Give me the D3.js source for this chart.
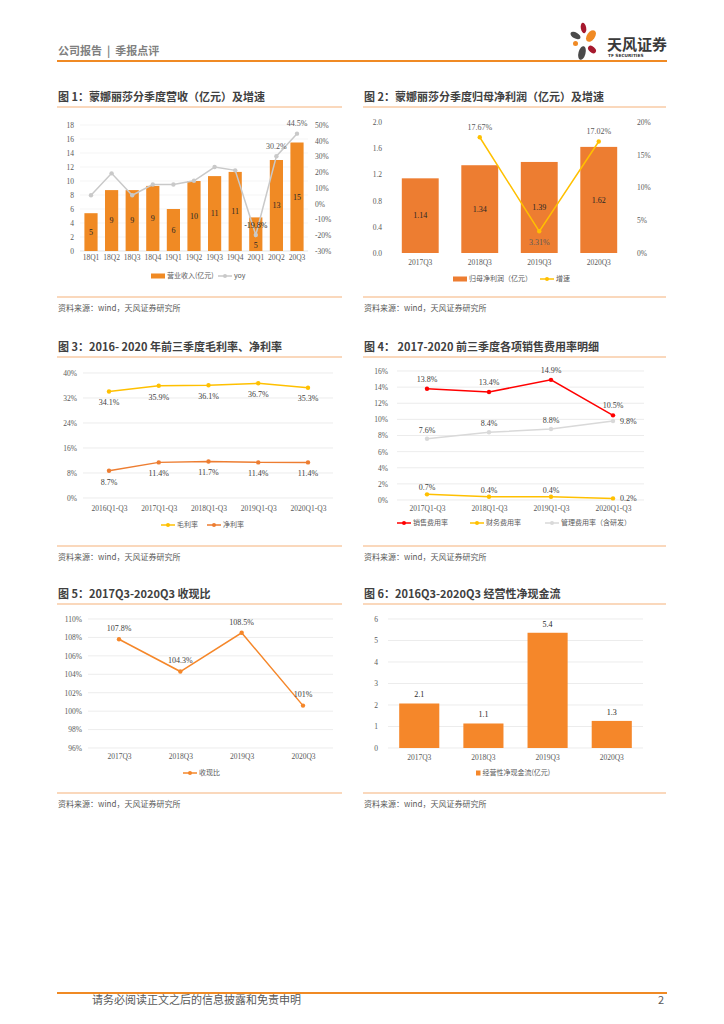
<!DOCTYPE html>
<html>
<head>
<meta charset="utf-8">
<script src="https://cdn.jsdelivr.net/npm/d3@7"></script>
<style>
  body { margin: 0; background: #fff; }
  svg { display: block; }
</style>
</head>
<body>
<div id="page"></div>
<script>
// 图1 分季度营收
const revQuarters = ["18Q1", "18Q2", "18Q3", "18Q4", "19Q1", "19Q2", "19Q3", "19Q4", "20Q1", "20Q2", "20Q3"];
const revValues = [5.4, 8.7, 8.7, 9.3, 6.0, 10.0, 10.7, 11.3, 4.8, 13.0, 15.5];
const revLabels = ["5", "9", "9", "9", "6", "10", "11", "11", "5", "13", "15"];
const revYoy = [5.4, 19.3, 5.4, 12.2, 12.2, 14.6, 23.3, 21.2, -19.8, 30.2, 44.5];
const revYoyLabels = ["", "", "", "", "", "", "", "", "-19.8%", "30.2%", "44.5%"];
const revLeftTicks = [0, 2, 4, 6, 8, 10, 12, 14, 16, 18];
const revRightTicks = [-30, -20, -10, 0, 10, 20, 30, 40, 50];

// 图2 归母净利润
const profitPeriods = ["2017Q3", "2018Q3", "2019Q3", "2020Q3"];
const profitValues = [1.14, 1.34, 1.39, 1.62];
const profitGrowth = [null, 17.67, 3.31, 17.02];
const profitLeftTicks = [0, 0.4, 0.8, 1.2, 1.6, 2.0];
const profitRightTicks = [0, 5, 10, 15, 20];

// 图3 毛利率、净利率
const marginPeriods = ["2016Q1-Q3", "2017Q1-Q3", "2018Q1-Q3", "2019Q1-Q3", "2020Q1-Q3"];
const grossMargin = [34.1, 35.9, 36.1, 36.7, 35.3];
const netMargin = [8.7, 11.4, 11.7, 11.4, 11.4];
const marginTicks = [0, 8, 16, 24, 32, 40];

// 图4 费用率
const feePeriods = ["2017Q1-Q3", "2018Q1-Q3", "2019Q1-Q3", "2020Q1-Q3"];
const sellingFee = [13.8, 13.4, 14.9, 10.5];
const financeFee = [0.7, 0.4, 0.4, 0.2];
const adminFee = [7.6, 8.4, 8.8, 9.8];
const feeTicks = [0, 2, 4, 6, 8, 10, 12, 14, 16];

// 图5 收现比
const cashPeriods = ["2017Q3", "2018Q3", "2019Q3", "2020Q3"];
const cashRatio = [107.8, 104.3, 108.5, 100.6];
const cashLabels = ["107.8%", "104.3%", "108.5%", "101%"];
const cashTicks = [96, 98, 100, 102, 104, 106, 108, 110];

// 图6 经营性净现金流
const flowPeriods = ["2017Q3", "2018Q3", "2019Q3", "2020Q3"];
const flowValues = [2.07, 1.14, 5.36, 1.26];
const flowLabels = ["2.1", "1.1", "5.4", "1.3"];
const flowTicks = [0, 1, 2, 3, 4, 5, 6];

const CJK = "'Noto Sans CJK SC', sans-serif";
const NUM = "'Liberation Serif', 'Noto Sans CJK SC', serif";
const ORANGE = "#F08A24";
const BAR2 = "#ED7D31";
const YELLOW = "#FFC000";
const GRAY = "#C9C9C9";
const TEXT = "#595959";

const svg = d3.select("#page").append("svg").attr("width", 724).attr("height", 1024);

// ---------- header / footer ----------
svg.append("text").attr("x", 58).attr("y", 55)
    .attr("font-family", CJK).attr("font-size", 11).attr("font-weight", "bold")
    .attr("fill", "#7f7f7f").attr("xml:space", "preserve").text("公司报告  |  季报点评");
svg.append("line").attr("x1", 57).attr("x2", 667).attr("y1", 61).attr("y2", 61)
    .attr("stroke", ORANGE).attr("stroke-width", 2);

const logo = svg.append("g");
const petals = [
    { cx: 583.5, cy: 28, rx: 2.7, ry: 5.3, r: -10, c: "#A6192E" },
    { cx: 591, cy: 36, rx: 4, ry: 6.5, r: 35, c: ORANGE },
    { cx: 575.5, cy: 35.5, rx: 5.5, ry: 3, r: 30, c: "#4a4a4a" },
    { cx: 575.5, cy: 43.5, rx: 2.5, ry: 2.5, r: 0, c: ORANGE },
    { cx: 582, cy: 53, rx: 3.5, ry: 7, r: 15, c: "#4a4a4a" },
    { cx: 592, cy: 49.5, rx: 4.5, ry: 3, r: 40, c: "#A6192E" }
];
logo.selectAll("ellipse").data(petals).enter().append("ellipse")
    .attr("cx", d => d.cx).attr("cy", d => d.cy).attr("rx", d => d.rx).attr("ry", d => d.ry)
    .attr("transform", d => `rotate(${d.r},${d.cx},${d.cy})`)
    .attr("fill", d => d.c);
logo.append("text").attr("x", 607).attr("y", 50)
    .attr("font-family", CJK).attr("font-size", 15).attr("font-weight", "bold")
    .attr("fill", "#3a3a3a").text("天风证券");
logo.append("text").attr("x", 608).attr("y", 57)
    .attr("font-family", "'DejaVu Sans', sans-serif").attr("font-size", 4.3).attr("font-weight", "bold")
    .attr("fill", "#3a3a3a").text("TF SECURITIES");

svg.append("line").attr("x1", 57).attr("x2", 667).attr("y1", 993).attr("y2", 993)
    .attr("stroke", ORANGE).attr("stroke-width", 2);
svg.append("text").attr("x", 92).attr("y", 1004)
    .attr("font-family", CJK).attr("font-size", 11).attr("fill", TEXT)
    .text("请务必阅读正文之后的信息披露和免责申明");
svg.append("text").attr("x", 664).attr("y", 1004).attr("text-anchor", "end")
    .attr("font-family", CJK).attr("font-size", 11).attr("fill", TEXT).text("2");

// ---------- helpers ----------
function panel(x0, x1, yTitle, yBottom, title) {
    svg.append("text").attr("x", x0 + 1).attr("y", yTitle)
        .attr("font-family", CJK).attr("font-size", 11).attr("font-weight", "bold")
        .attr("fill", "#404040").text(title);
    svg.append("line").attr("x1", x0).attr("x2", x1).attr("y1", yTitle + 6).attr("y2", yTitle + 6)
        .attr("stroke", "#F5B27A").attr("stroke-width", 1.2);
    svg.append("line").attr("x1", x0).attr("x2", x1).attr("y1", yBottom).attr("y2", yBottom)
        .attr("stroke", "#F5B27A").attr("stroke-width", 1.2);
    svg.append("text").attr("x", x0 + 1).attr("y", yBottom + 14)
        .attr("font-family", CJK).attr("font-size", 8).attr("fill", TEXT)
        .text("资料来源：wind，天风证券研究所");
}

function leftAxis(scale, ticks, x, fmt) {
    svg.append("g").attr("transform", `translate(${x},0)`)
        .call(d3.axisLeft(scale).tickValues(ticks).tickSize(0).tickPadding(0).tickFormat(fmt))
        .call(g => g.select(".domain").remove())
        .selectAll("text").attr("font-family", NUM).attr("font-size", 7.5).attr("fill", TEXT);
}

function rightAxis(scale, ticks, x, fmt) {
    svg.append("g").attr("transform", `translate(${x},0)`)
        .call(d3.axisRight(scale).tickValues(ticks).tickSize(0).tickPadding(0).tickFormat(fmt))
        .call(g => g.select(".domain").remove())
        .selectAll("text").attr("font-family", NUM).attr("font-size", 7.5).attr("fill", TEXT);
}

function bottomAxis(scale, y) {
    svg.append("g").attr("transform", `translate(0,${y})`)
        .call(d3.axisBottom(scale).tickSize(0).tickPadding(0))
        .call(g => g.select(".domain").remove())
        .selectAll("text").attr("font-family", NUM).attr("font-size", 7.5).attr("fill", TEXT);
}

function grid(scale, ticks, x0, x1, color) {
    svg.append("g").selectAll("line").data(ticks).enter().append("line")
        .attr("x1", x0).attr("x2", x1)
        .attr("y1", d => scale(d)).attr("y2", d => scale(d))
        .attr("stroke", color || "#E4E4E4").attr("stroke-width", 0.7);
}

function lineSeries(x, y, values, color, width) {
    const pts = values.map((v, i) => [v, i]).filter(d => d[0] !== null);
    const cx = d => x(x.domain()[d[1]]) + (x.bandwidth ? x.bandwidth() / 2 : 0);
    svg.append("path").datum(pts).attr("d", d3.line().x(cx).y(d => y(d[0])))
        .attr("fill", "none").attr("stroke", color).attr("stroke-width", width || 1.5);
    svg.append("g").selectAll("circle").data(pts).enter().append("circle")
        .attr("cx", cx).attr("cy", d => y(d[0])).attr("r", 2.2).attr("fill", color);
}

function legendLine(x, y, color, label) {
    svg.append("line").attr("x1", x).attr("x2", x + 14).attr("y1", y).attr("y2", y)
        .attr("stroke", color).attr("stroke-width", 1.5);
    svg.append("circle").attr("cx", x + 7).attr("cy", y).attr("r", 2).attr("fill", color);
    svg.append("text").attr("x", x + 16).attr("y", y).attr("dy", "0.35em")
        .attr("font-family", CJK).attr("font-size", 7).attr("fill", TEXT).text(label);
}

function legendRect(x, y, w, color, label) {
    svg.append("rect").attr("x", x).attr("y", y - 2.5).attr("width", w).attr("height", 5).attr("fill", color);
    svg.append("text").attr("x", x + w + 2).attr("y", y).attr("dy", "0.35em")
        .attr("font-family", CJK).attr("font-size", 7).attr("fill", TEXT).text(label);
}

function label(x, y, txt, color, anchor) {
    svg.append("text").attr("x", x).attr("y", y).attr("dy", "0.35em")
        .attr("text-anchor", anchor || "middle")
        .attr("font-family", NUM).attr("font-size", 8).attr("fill", color || "#404040").text(txt);
}

// ---------- 图1 ----------
panel(57, 342, 101, 297, "图 1：蒙娜丽莎分季度营收（亿元）及增速");
{
    const x = d3.scaleBand().domain(revQuarters).range([80.7, 307.3]).paddingInner(0.36).paddingOuter(0.18);
    const yL = d3.scaleLinear().domain([0, 18]).range([251, 125]);
    const yR = d3.scaleLinear().domain([-30, 50]).range([251, 125]);
    grid(yL, revLeftTicks.slice(1), 80, 308, "#F0F0F0");
    svg.append("line").attr("x1", 80).attr("x2", 308).attr("y1", yL(0)).attr("y2", yL(0))
        .attr("stroke", "#D9D9D9").attr("stroke-width", 0.7);
    svg.append("g").selectAll("rect").data(revValues).enter().append("rect")
        .attr("x", (d, i) => x(revQuarters[i])).attr("width", x.bandwidth())
        .attr("y", d => yL(d)).attr("height", d => yL(0) - yL(d)).attr("fill", ORANGE);
    revValues.forEach((v, i) => {
        // 与增速标签冲突时，数值标签放到柱底
        let ly = yL(v / 2);
        if (revYoyLabels[i] && Math.abs(ly - (yR(revYoy[i]) - 10)) < 14) ly = yL(0) - 6;
        label(x(revQuarters[i]) + x.bandwidth() / 2, ly, revLabels[i], "#262626");
    });
    lineSeries(x, yR, revYoy, GRAY, 1.5);
    revYoy.forEach((v, i) => {
        if (revYoyLabels[i]) label(x(revQuarters[i]) + x.bandwidth() / 2, yR(v) - 10, revYoyLabels[i], v < 0 ? "#262626" : TEXT);
    });
    leftAxis(yL, revLeftTicks, 74, d3.format("d"));
    rightAxis(yR, revRightTicks, 315, d => d + "%");
    bottomAxis(x, 255);
    legendRect(151, 276, 14, ORANGE, "营业收入(亿元)");
    legendLine(218, 276, GRAY, "yoy");
}

// ---------- 图2 ----------
panel(363, 666, 101, 297, "图 2：蒙娜丽莎分季度归母净利润（亿元）及增速");
{
    const x = d3.scaleBand().domain(profitPeriods).range([390.5, 628.5]).paddingInner(0.38).paddingOuter(0.19);
    const yL = d3.scaleLinear().domain([0, 2]).range([253, 122]);
    const yR = d3.scaleLinear().domain([0, 20]).range([253, 122]);
    svg.append("g").selectAll("rect").data(profitValues).enter().append("rect")
        .attr("x", (d, i) => x(profitPeriods[i])).attr("width", x.bandwidth())
        .attr("y", d => yL(d)).attr("height", d => yL(0) - yL(d)).attr("fill", BAR2);
    profitValues.forEach((v, i) => label(x(profitPeriods[i]) + x.bandwidth() / 2, yL(v / 2), d3.format(".2f")(v), "#262626"));
    lineSeries(x, yR, profitGrowth, YELLOW, 1.5);
    const minG = d3.min(profitGrowth.filter(v => v !== null));
    profitGrowth.forEach((v, i) => {
        if (v === null) return;
        const dy = v === minG ? 11 : -10;
        label(x(profitPeriods[i]) + x.bandwidth() / 2, yR(v) + dy, d3.format(".2f")(v) + "%", TEXT);
    });
    leftAxis(yL, profitLeftTicks, 382, d3.format(".1f"));
    rightAxis(yR, profitRightTicks, 637, d => d + "%");
    bottomAxis(x, 260);
    legendRect(453, 279, 14, BAR2, "归母净利润（亿元）");
    legendLine(540, 279, YELLOW, "增速");
}

// ---------- 图3 ----------
panel(57, 342, 351, 546, "图 3：2016- 2020 年前三季度毛利率、净利率");
{
    const x = d3.scalePoint().domain(marginPeriods).range([109, 308]);
    const y = d3.scaleLinear().domain([0, 40]).range([498, 373]);
    grid(y, marginTicks, 83, 333);
    lineSeries(x, y, grossMargin, YELLOW, 1.5);
    lineSeries(x, y, netMargin, BAR2, 1.5);
    grossMargin.forEach((v, i) => label(x(marginPeriods[i]), y(v) + 11, v.toFixed(1) + "%"));
    netMargin.forEach((v, i) => label(x(marginPeriods[i]), y(v) + 11, v.toFixed(1) + "%"));
    leftAxis(y, marginTicks, 77, d => d + "%");
    bottomAxis(x, 506);
    legendLine(161, 525, YELLOW, "毛利率");
    legendLine(207, 525, BAR2, "净利率");
}

// ---------- 图4 ----------
panel(363, 666, 351, 546, "图 4： 2017-2020 前三季度各项销售费用率明细");
{
    const x = d3.scalePoint().domain(feePeriods).range([427, 613]);
    const y = d3.scaleLinear().domain([0, 16]).range([500, 371]);
    grid(y, feeTicks, 397, 644);
    lineSeries(x, y, adminFee, "#D9D9D9", 1.5);
    lineSeries(x, y, financeFee, YELLOW, 1.5);
    lineSeries(x, y, sellingFee, "#FF0000", 1.5);
    const last = feePeriods.length - 1;
    sellingFee.forEach((v, i) => label(x(feePeriods[i]), y(v) - 10, v.toFixed(1) + "%"));
    adminFee.forEach((v, i) => i === last
        ? label(x(feePeriods[i]) + 7, y(v), v.toFixed(1) + "%", "#404040", "start")
        : label(x(feePeriods[i]), y(v) - 9, v.toFixed(1) + "%"));
    financeFee.forEach((v, i) => i === last
        ? label(x(feePeriods[i]) + 7, y(v), v.toFixed(1) + "%", "#404040", "start")
        : label(x(feePeriods[i]), y(v) - 7, v.toFixed(1) + "%"));
    leftAxis(y, feeTicks, 388, d => d + "%");
    bottomAxis(x, 506);
    legendLine(397, 523, "#FF0000", "销售费用率");
    legendLine(470, 523, YELLOW, "财务费用率");
    legendLine(545, 523, "#D9D9D9", "管理费用率（含研发）");
}

// ---------- 图5 ----------
panel(57, 342, 598, 793, "图 5：2017Q3-2020Q3 收现比");
{
    const x = d3.scalePoint().domain(cashPeriods).range([119, 303]);
    const y = d3.scaleLinear().domain([96, 110]).range([748, 619]);
    grid(y, cashTicks, 88, 333);
    lineSeries(x, y, cashRatio, "#F5872A", 1.5);
    cashRatio.forEach((v, i) => label(x(cashPeriods[i]), y(v) - 11, cashLabels[i]));
    leftAxis(y, cashTicks, 82, d => d + "%");
    bottomAxis(x, 754);
    legendLine(183, 773, "#F5872A", "收现比");
}

// ---------- 图6 ----------
panel(363, 666, 598, 793, "图 6：2016Q3-2020Q3 经营性净现金流");
{
    const x = d3.scaleBand().domain(flowPeriods).range([387, 644]).paddingInner(0.375).paddingOuter(0.19);
    const y = d3.scaleLinear().domain([0, 6]).range([748, 619]);
    grid(y, flowTicks, 388, 643);
    svg.append("g").selectAll("rect").data(flowValues).enter().append("rect")
        .attr("x", (d, i) => x(flowPeriods[i])).attr("width", x.bandwidth())
        .attr("y", d => y(d)).attr("height", d => y(0) - y(d)).attr("fill", "#F5872A");
    flowValues.forEach((v, i) => label(x(flowPeriods[i]) + x.bandwidth() / 2, y(v) - 9, flowLabels[i], "#262626"));
    leftAxis(y, flowTicks, 378, d3.format("d"));
    bottomAxis(x, 755);
    legendRect(476, 773, 4.5, "#F5872A", "经营性净现金流(亿元)");
}
</script>
</body>
</html>
